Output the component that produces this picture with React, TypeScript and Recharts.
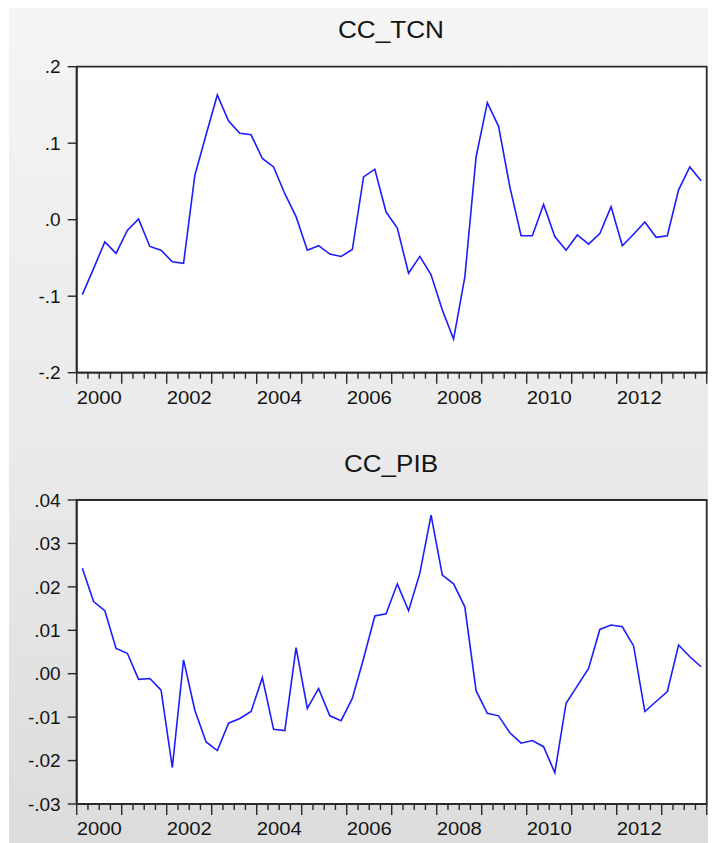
import React from 'react';
import { LineChart, Line, XAxis, YAxis, ReferenceArea } from 'recharts';

// Quarterly series 2000Q1 .. 2013Q4
const startYear = 2000;
const yearLabels = [2000, 2002, 2004, 2006, 2008, 2010, 2012];

const tcnValues = [
  -0.098, -0.064, -0.029, -0.044, -0.014, 0.001, -0.035, -0.040,
  -0.055, -0.057, 0.058, 0.111, 0.163, 0.129, 0.113, 0.111,
  0.080, 0.069, 0.034, 0.004, -0.040, -0.034, -0.045, -0.048,
  -0.039, 0.056, 0.066, 0.010, -0.011, -0.070, -0.048, -0.072,
  -0.118, -0.156, -0.075, 0.082, 0.153, 0.122, 0.043, -0.021,
  -0.021, 0.020, -0.022, -0.040, -0.020, -0.032, -0.018, 0.017,
  -0.034, -0.019, -0.003, -0.023, -0.021, 0.039, 0.069, 0.051,
];

const pibValues = [
  0.0243, 0.0166, 0.0145, 0.0058, 0.0047, -0.0013, -0.0011, -0.0038,
  -0.0216, 0.0032, -0.0084, -0.0157, -0.0177, -0.0114, -0.0103, -0.0087,
  -0.0009, -0.0128, -0.0131, 0.0060, -0.0080, -0.0034, -0.0097, -0.0108,
  -0.0057, 0.0035, 0.0133, 0.0138, 0.0207, 0.0145, 0.0231, 0.0365,
  0.0227, 0.0207, 0.0154, -0.0039, -0.0091, -0.0097, -0.0136, -0.0160,
  -0.0154, -0.0168, -0.0228, -0.0068, -0.0028, 0.0012, 0.0102, 0.0112,
  0.0108, 0.0064, -0.0087, -0.0064, -0.0041, 0.0066, 0.0039, 0.0016,
];

const tcnTicks = [-0.2, -0.1, 0, 0.1, 0.2];
const pibTicks = [-0.03, -0.02, -0.01, 0, 0.01, 0.02, 0.03, 0.04];

const nQ = tcnValues.length;
const quarterTicks = Array.from({ length: nQ + 1 }, (_, i) => i);

const tcnData = tcnValues.map((v, i) => ({ x: i + 0.5, v }));
const pibData = pibValues.map((v, i) => ({ x: i + 0.5, v }));

const FONT = '"Liberation Sans", Arial, Helvetica, sans-serif';
const TEXT = '#141414';
const AXIS = '#2a2a2a';
const LINE = '#1c1cff';

const fmt = (digits: number) => (v: number) => {
  const s = Math.abs(v).toFixed(digits).replace(/^0/, '');
  return v < -1e-9 ? '-' + s : s;
};

const QuarterTick = (props: any) => {
  const { x, y, payload } = props;
  const v = Math.round(payload.value);
  const major = v % 4 === 0;
  const year = startYear + (v - 2) / 4;
  const showLabel = v % 8 === 2 && yearLabels.includes(year);
  return (
    <g>
      <line x1={x} x2={x} y1={y} y2={y + (major ? 11 : 6)} stroke={AXIS} strokeWidth={1.4} />
      {showLabel && (
        <text
          x={x}
          y={y + 31}
          textAnchor="middle"
          fontSize={19}
          fill={TEXT}
          fontFamily={FONT}
          textLength={45}
          lengthAdjust="spacingAndGlyphs"
        >
          {year}
        </text>
      )}
    </g>
  );
};

type PanelProps = {
  data: { x: number; v: number }[];
  ticks: number[];
  digits: number;
  height: number;
  marginTop: number;
  marginBottom: number;
};

const Panel = ({ data, ticks, digits, height, marginTop, marginBottom }: PanelProps) => {
  const lo = ticks[0];
  const hi = ticks[ticks.length - 1];
  return (
    <LineChart
      width={716}
      height={height}
      data={data}
      margin={{ top: marginTop, right: 9.3, left: 6.7, bottom: marginBottom }}
    >
      <ReferenceArea x1={0} x2={nQ} y1={lo} y2={hi} fill="#ffffff" fillOpacity={1} stroke={AXIS} strokeOpacity={1} strokeWidth={1.8} />
      <XAxis
        dataKey="x"
        type="number"
        domain={[0, nQ]}
        ticks={quarterTicks}
        interval={0}
        tick={<QuarterTick />}
        tickLine={false}
        tickSize={0}
        tickMargin={0}
        axisLine={{ stroke: AXIS, strokeWidth: 1.8 }}
        height={40}
        allowDataOverflow
      />
      <YAxis
        type="number"
        domain={[lo, hi]}
        ticks={ticks}
        interval={0}
        tickFormatter={fmt(digits)}
        tick={{ fontSize: 19, fill: TEXT, fontFamily: FONT }}
        tickLine={{ stroke: AXIS, strokeWidth: 1.4 }}
        tickSize={9}
        tickMargin={7}
        axisLine={{ stroke: AXIS, strokeWidth: 1.8 }}
        width={70}
        allowDataOverflow
      />
      <Line
        type="linear"
        dataKey="v"
        stroke={LINE}
        strokeWidth={1.6}
        dot={false}
        activeDot={false}
        isAnimationActive={false}
      />
    </LineChart>
  );
};

export default function App() {
  return (
    <div
      style={{
        position: 'relative',
        width: 716,
        height: 843,
        margin: '-8px 0 0 -8px',
        background: '#ffffff',
        fontFamily: FONT,
        overflow: 'hidden',
      }}
    >
      <div
        style={{
          position: 'absolute',
          left: 9,
          top: 4,
          right: 0,
          bottom: 0,
          background: 'linear-gradient(#f5f5f5, #e9e9e9 55%, #dcdcdc)',
        }}
      />
      <div style={{ position: 'absolute', left: 0, top: 0 }}>
        <Panel data={tcnData} ticks={tcnTicks} digits={1} height={420} marginTop={66.7} marginBottom={7.3} />
      </div>
      <div style={{ position: 'absolute', left: 0, top: 430 }}>
        <Panel data={pibData} ticks={pibTicks} digits={2} height={418} marginTop={70} marginBottom={4} />
      </div>
      <svg
        width={716}
        height={843}
        style={{ position: 'absolute', left: 0, top: 0, pointerEvents: 'none' }}
      >
        <text x={391} y={38.3} textAnchor="middle" fontSize={23} fill={TEXT} fontFamily={FONT} textLength={106} lengthAdjust="spacingAndGlyphs">
          CC_TCN
        </text>
        <text x={391} y={471.6} textAnchor="middle" fontSize={23} fill={TEXT} fontFamily={FONT} textLength={94} lengthAdjust="spacingAndGlyphs">
          CC_PIB
        </text>
      </svg>
    </div>
  );
}
